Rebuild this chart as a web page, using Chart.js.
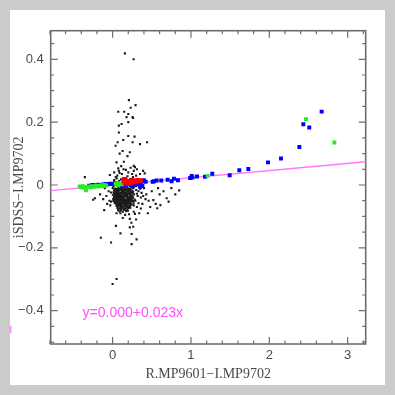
<!DOCTYPE html>
<html lang="en">
<head>
    <meta charset="UTF-8">
    <title>iSDSS vs R-I colour term</title>
    <script src="https://cdn.jsdelivr.net/npm/chart.js"></script>
    <style>
        html, body {
            margin: 0;
            padding: 0;
            background-color: #cbcbcb;
        }
        .panel {
            position: absolute;
            left: 10px;
            top: 10px;
            width: 375px;
            height: 375px;
            background: #ffffff;
        }
        #fitChart {
            position: absolute;
            left: 0;
            top: 0;
        }
    </style>
</head>
<body>
    <div class="panel"></div>
    <canvas id="fitChart" width="395" height="395"></canvas>

    <script>
        // tick positions / labels
        const xTickValues = [0, 1, 2, 3];
        const xTickLabels = ['0', '1', '2', '3'];
        const yTickValues = [-0.4, -0.2, 0, 0.2, 0.4];
        const yTickLabels = ['\u22120.4', '\u22120.2', '0', '0.2', '0.4'];
        const xMinorTicks = [-0.8, -0.6, -0.4, -0.2, 0.2, 0.4, 0.6, 0.8, 1.2, 1.4, 1.6, 1.8, 2.2, 2.4, 2.6, 2.8, 3.2];
        const yMinorTicks = [-0.5, -0.45, -0.35, -0.3, -0.25, -0.15, -0.1, -0.05, 0.05, 0.1, 0.15, 0.25, 0.3, 0.35, 0.45];

        // fitted relation
        const fitLabel = 'y=0.000+0.023x';
        const fitLabelAt = [-0.383, -0.409];
        const fitLine = [[-0.79, -0.018], [3.23, 0.074]];

        // all stars (small black dots)
        const blackPoints = [
            // core
            [0.052,0.021],[0.108,0.018],[0.171,0.022],[0.224,0.019],[0.02,0.016],
            [0.018,0.012],[0.083,0.013],[0.131,0.011],[0.192,0.014],[0.258,0.012],[0.047,0.009],
            [-0.012,0.005],[0.041,0.004],[0.092,0.006],[0.118,0.003],[0.163,0.005],[0.214,0.006],[0.271,0.004],[0.067,0.007],
            [0.011,-0.003],[0.058,-0.002],[0.101,-0.004],[0.142,-0.003],[0.183,-0.002],[0.232,-0.004],[0.288,-0.003],[0.079,-0.005],[0.124,-0.001],
            [0.002,-0.01],[0.031,-0.011],[0.072,-0.009],[0.113,-0.01],[0.152,-0.012],[0.191,-0.009],[0.223,-0.011],[0.262,-0.01],[0.051,-0.013],[0.134,-0.008],[0.172,-0.014],
            [0.019,-0.017],[0.048,-0.016],[0.084,-0.018],[0.121,-0.017],[0.158,-0.016],[0.203,-0.018],[0.241,-0.017],[0.301,-0.016],[0.066,-0.02],[0.104,-0.015],[0.141,-0.019],[0.178,-0.02],[0.222,-0.015],
            [-0.021,-0.024],[0.012,-0.023],[0.039,-0.025],[0.071,-0.024],[0.098,-0.026],[0.128,-0.023],[0.169,-0.025],[0.212,-0.024],[0.253,-0.026],[0.057,-0.022],[0.086,-0.027],[0.147,-0.022],[0.189,-0.027],[0.232,-0.022],[0.114,-0.021],
            [0.003,-0.031],[0.028,-0.032],[0.062,-0.03],[0.091,-0.031],[0.119,-0.033],[0.151,-0.03],[0.183,-0.032],[0.219,-0.031],[0.272,-0.03],[0.044,-0.034],[0.076,-0.029],[0.106,-0.035],[0.137,-0.028],[0.166,-0.034],[0.201,-0.029],[0.241,-0.033],
            [0.017,-0.038],[0.052,-0.039],[0.081,-0.037],[0.109,-0.038],[0.141,-0.04],[0.173,-0.037],[0.204,-0.039],[0.238,-0.038],[0.034,-0.036],[0.067,-0.041],[0.094,-0.036],[0.126,-0.041],[0.157,-0.036],[0.189,-0.041],[0.221,-0.036],[0.262,-0.04],
            [0.008,-0.045],[0.042,-0.044],[0.071,-0.046],[0.102,-0.045],[0.131,-0.043],[0.163,-0.046],[0.194,-0.044],[0.228,-0.045],[0.281,-0.046],[0.024,-0.048],[0.057,-0.043],[0.087,-0.048],[0.116,-0.047],[0.148,-0.049],[0.179,-0.048],[0.211,-0.047],[0.251,-0.043],
            [0.029,-0.052],[0.061,-0.053],[0.093,-0.051],[0.122,-0.052],[0.152,-0.054],[0.184,-0.051],[0.213,-0.053],[0.249,-0.052],[0.044,-0.055],[0.077,-0.05],[0.107,-0.056],[0.138,-0.05],[0.168,-0.056],[0.198,-0.055],[0.231,-0.05],[0.011,-0.051],
            [0.038,-0.059],[0.072,-0.06],[0.101,-0.058],[0.132,-0.059],[0.161,-0.061],[0.197,-0.058],[0.232,-0.06],[0.054,-0.062],[0.087,-0.057],[0.117,-0.062],[0.146,-0.057],[0.179,-0.062],[0.214,-0.063],[0.268,-0.058],
            [0.049,-0.066],[0.081,-0.065],[0.112,-0.067],[0.143,-0.066],[0.178,-0.065],[0.219,-0.067],[0.064,-0.069],[0.096,-0.064],[0.127,-0.07],[0.161,-0.068],[0.198,-0.07],
            [0.061,-0.073],[0.091,-0.074],[0.128,-0.072],[0.167,-0.074],[0.208,-0.073],[0.076,-0.077],[0.109,-0.076],[0.147,-0.075],[0.186,-0.077],
            [0.071,-0.08],[0.108,-0.081],[0.152,-0.079],[0.197,-0.082],[0.089,-0.084],[0.131,-0.085],[0.173,-0.083],
            // core, densest part
            [0.063,-0.013],[0.093,-0.012],[0.127,-0.014],[0.162,-0.009],[0.198,-0.013],[0.243,-0.008],
            [0.034,-0.02],[0.077,-0.016],[0.115,-0.028],[0.157,-0.026],[0.196,-0.021],[0.262,-0.021],
            [0.021,-0.027],[0.049,-0.029],[0.083,-0.033],[0.133,-0.036],[0.176,-0.029],[0.229,-0.027],
            [0.059,-0.035],[0.098,-0.041],[0.149,-0.044],[0.186,-0.036],[0.214,-0.041],[0.251,-0.036],
            [0.033,-0.042],[0.079,-0.043],[0.123,-0.048],[0.171,-0.051],[0.206,-0.049],[0.241,-0.047],
            [0.052,-0.048],[0.096,-0.054],[0.141,-0.056],[0.186,-0.057],[0.223,-0.056],[0.268,-0.051],
            [0.027,-0.057],[0.064,-0.056],[0.109,-0.061],[0.153,-0.063],[0.191,-0.066],[0.243,-0.063],
            [0.072,-0.067],[0.119,-0.071],[0.139,-0.078],[0.182,-0.071],[0.226,-0.072],[0.101,-0.07],
            // halo
            [0.08,0.045],[0.14,0.05],[0.2,0.04],[0.25,0.035],[0.11,0.06],[0.17,0.048],[0.06,0.03],[0.23,0.055],[0.3,0.03],[0.12,0.035],
            [0.19,0.028],[0.04,0.025],[0.27,0.045],[0.09,0.038],[0.31,0.05],[0.35,0.035],[0.02,0.04],[-0.035,0.032],[0.072,0.053],
            [-0.05,-0.02],[-0.08,-0.035],[-0.04,-0.05],[-0.1,-0.01],[-0.06,0.005],[-0.03,-0.065],[-0.12,-0.045],[-0.07,-0.06],[-0.02,-0.053],
            [0.33,-0.02],[0.36,-0.04],[0.4,-0.01],[0.38,-0.06],[0.43,-0.03],[0.46,-0.05],[0.31,-0.07],[0.34,-0.09],[0.5,-0.02],[0.48,-0.07],
            [0.57,-0.074],[0.61,-0.064],[0.52,-0.048],[0.69,-0.042],[0.715,-0.053],[0.6,-0.03],[0.65,-0.02],[0.75,-0.01],[0.85,-0.017],[0.8,-0.03],
            [0.58,-0.01],[0.44,0.01],[0.41,0.037],[0.39,0.045],[0.285,0.057],[0.42,-0.045],[0.37,-0.025],[0.45,-0.09],[0.55,-0.06],[0.32,-0.035],
            [0.1,-0.09],[0.16,-0.095],[0.21,-0.093],[0.285,-0.092],[0.05,-0.09],[0.22,-0.108],[0.24,-0.12],[0.13,-0.105],[0.27,-0.085],[0.3,-0.11],
            [0.29,-0.05],[0.31,-0.028],[0.33,-0.058],[0.35,-0.012],[0.36,-0.075],[0.39,-0.035],[0.27,-0.065],[0.3,-0.004],[0.34,0.012],[0.26,0.025],
            // outliers
            [0.157,0.419],[0.268,0.4],[0.208,0.27],[0.293,0.254],[0.23,0.246],[0.072,0.233],[0.148,0.233],[0.2,0.226],[0.178,0.216],[0.26,0.213],
            [0.255,0.216],[0.115,0.194],[0.08,0.189],[0.2,0.2],[0.08,0.167],[0.2,0.156],[0.28,0.154],[0.136,0.143],[0.255,0.136],[0.35,0.13],
            [0.44,0.136],[0.064,0.136],[0.038,0.125],[0.128,0.108],[0.22,0.104],[0.09,0.1],[0.19,0.092],[0.05,0.072],[0.144,0.074],[0.27,0.061],
            [-0.354,0.025],[-0.226,-0.042],[-0.248,-0.047],[-0.107,-0.08],[-0.16,-0.03],
            [0.042,-0.13],[0.22,-0.135],[0.263,-0.133],[0.1,-0.154],[0.243,-0.156],[-0.15,-0.168],[-0.02,-0.183],[0.306,-0.173],[0.243,-0.188],
            [0.051,-0.299],[0.0,-0.315]
        ];

        const bluePoints = [
            [-0.3,-0.002],[-0.26,0.0],[-0.22,-0.001],[-0.18,0.001],[-0.15,0.0],[-0.12,0.002],[-0.09,0.003],[-0.06,0.002],[-0.03,0.004],[0.0,0.003],[0.03,0.005],[0.06,0.002],
            [0.12,-0.003],[0.16,-0.002],[0.2,0.004],[0.23,0.0],[0.26,-0.004],[0.3,0.002],[0.33,0.006],[0.36,0.004],[0.38,0.012],[0.4,0.015],[0.42,0.01],[0.38,-0.003],[0.35,-0.006],
            [0.511,0.01],[0.53,0.012],[0.562,0.014],[0.621,0.014],[0.702,0.017],[0.753,0.012],[0.783,0.02],[0.834,0.015],
            [0.99,0.022],[1.009,0.029],[1.02,0.024],[1.077,0.027],[1.18,0.026],[1.272,0.036],[1.494,0.031],[1.617,0.047],[1.732,0.051],
            [1.983,0.072],[2.149,0.084],[2.383,0.121],[2.434,0.193],[2.51,0.183],[2.668,0.2335]
        ];

        const greenPoints = [
            [-0.42,-0.005],[-0.4,-0.007],[-0.38,-0.004],[-0.36,-0.008],[-0.34,-0.017],[-0.33,-0.006],[-0.3,-0.005],[-0.28,-0.007],[-0.26,-0.004],
            [-0.24,-0.006],[-0.22,-0.003],[-0.2,-0.005],[-0.18,-0.002],[-0.16,-0.004],[-0.14,-0.001],[-0.12,-0.003],[-0.1,0.0],[-0.08,-0.002],
            [0.04,0.004],[0.06,0.006],[0.08,0.003],[0.1,0.005],[0.12,0.002],[0.07,-0.001],
            [1.213,0.029],[2.468,0.209],[2.83,0.135]
        ];

        const redPoints = [
            [0.14,0.012],[0.15,0.006],[0.16,0.01],[0.17,0.014],[0.18,0.008],[0.19,0.011],[0.2,0.006],[0.21,0.013],[0.22,0.009],[0.23,0.012],
            [0.24,0.007],[0.25,0.014],[0.26,0.01],[0.27,0.012],[0.28,0.015],[0.29,0.009],[0.3,0.013],[0.31,0.011],[0.32,0.016],[0.33,0.012],
            [0.34,0.014],[0.35,0.013],[0.36,0.015],[0.155,0.018],[0.185,0.004],[0.215,0.003],[0.245,0.017],[0.145,0.019]
        ];

        const toXY = pts => pts.map(p => ({x: p[0], y: p[1]}));

        const frameAndTicks = {
            id: 'frameAndTicks',
            beforeDatasetsDraw(chart) {
                const {ctx, chartArea: a, scales: {x, y}} = chart;
                ctx.save();
                ctx.strokeStyle = '#6e6e6e';
                ctx.lineWidth = 1.2;
                ctx.beginPath();
                const xTick = (v, len) => {
                    const px = x.getPixelForValue(v);
                    ctx.moveTo(px, a.bottom); ctx.lineTo(px, a.bottom - len);
                    ctx.moveTo(px, a.top); ctx.lineTo(px, a.top + len);
                };
                const yTick = (v, len) => {
                    const py = y.getPixelForValue(v);
                    ctx.moveTo(a.left, py); ctx.lineTo(a.left + len, py);
                    ctx.moveTo(a.right, py); ctx.lineTo(a.right - len, py);
                };
                xTickValues.forEach(v => xTick(v, 7));
                xMinorTicks.forEach(v => xTick(v, 3.5));
                yTickValues.forEach(v => yTick(v, 7));
                yMinorTicks.forEach(v => yTick(v, 3.5));
                ctx.stroke();
                ctx.lineWidth = 1.6;
                ctx.strokeRect(a.left, a.top, a.right - a.left, a.bottom - a.top);
                ctx.restore();
            },
            afterDraw(chart) {
                const {ctx, scales: {x, y}} = chart;
                ctx.save();
                ctx.fillStyle = '#ff4dff';
                ctx.font = '14px "Liberation Sans", Arial, sans-serif';
                ctx.textAlign = 'left';
                ctx.textBaseline = 'middle';
                ctx.fillText(fitLabel, x.getPixelForValue(fitLabelAt[0]), y.getPixelForValue(fitLabelAt[1]));
                // stray clipped mark at the left edge of the panel
                ctx.fillStyle = '#ff8cff';
                ctx.fillRect(10, 326, 1.5, 7);
                ctx.restore();
            }
        };

        const ctx = document.getElementById('fitChart').getContext('2d');
        const fitChart = new Chart(ctx, {
            type: 'scatter',
            data: {
                datasets: [
                    {
                        label: 'red',
                        data: toXY(redPoints),
                        pointStyle: 'rect',
                        pointRadius: 2.8,
                        borderWidth: 0,
                        backgroundColor: '#ff0000'
                    },
                    {
                        label: 'green',
                        data: toXY(greenPoints),
                        pointStyle: 'rect',
                        pointRadius: 2.8,
                        borderWidth: 0,
                        backgroundColor: '#22ee22'
                    },
                    {
                        label: 'blue',
                        data: toXY(bluePoints),
                        pointStyle: 'rect',
                        pointRadius: 2.8,
                        borderWidth: 0,
                        backgroundColor: '#0000ff'
                    },
                    {
                        label: 'fit',
                        type: 'line',
                        data: toXY(fitLine),
                        borderColor: '#ff77ff',
                        borderWidth: 1.3,
                        pointRadius: 0,
                        fill: false
                    },
                    {
                        label: 'all',
                        data: toXY(blackPoints),
                        pointStyle: 'rect',
                        pointRadius: 1.5,
                        borderWidth: 0,
                        backgroundColor: '#1a1a1a'
                    }
                ]
            },
            options: {
                animation: false,
                responsive: false,
                devicePixelRatio: 1,
                layout: {
                    padding: {left: 0, top: 30.7, right: 29.3, bottom: 0}
                },
                plugins: {
                    legend: {display: false},
                    tooltip: {enabled: false}
                },
                scales: {
                    x: {
                        type: 'linear',
                        min: -0.79,
                        max: 3.23,
                        afterBuildTicks: s => { s.ticks = xTickValues.map(v => ({value: v})); },
                        afterFit: s => { s.height = 51; },
                        grid: {display: false, drawTicks: false},
                        border: {display: false},
                        ticks: {
                            autoSkip: false,
                            maxRotation: 0,
                            padding: 4,
                            color: '#4a4a4a',
                            font: {family: '"Liberation Sans", Arial, sans-serif', size: 13},
                            callback: (v, i) => xTickLabels[i]
                        },
                        title: {
                            display: true,
                            text: 'R.MP9601\u2212I.MP9702',
                            color: '#4a4a4a',
                            font: {family: '"Liberation Serif", "Times New Roman", serif', size: 14},
                            padding: {top: 0, bottom: 12.6}
                        }
                    },
                    y: {
                        type: 'linear',
                        min: -0.506,
                        max: 0.491,
                        afterBuildTicks: s => { s.ticks = yTickValues.map(v => ({value: v})); },
                        afterFit: s => { s.width = 50.7; },
                        grid: {display: false, drawTicks: false},
                        border: {display: false},
                        ticks: {
                            autoSkip: false,
                            padding: 7,
                            color: '#4a4a4a',
                            font: {family: '"Liberation Sans", Arial, sans-serif', size: 13},
                            callback: (v, i) => yTickLabels[i]
                        },
                        title: {
                            display: true,
                            text: 'iSDSS\u2212I.MP9702',
                            color: '#4a4a4a',
                            font: {family: '"Liberation Serif", "Times New Roman", serif', size: 14},
                            padding: {top: 11, bottom: 0}
                        }
                    }
                }
            },
            plugins: [frameAndTicks]
        });
    </script>
</body>
</html>
